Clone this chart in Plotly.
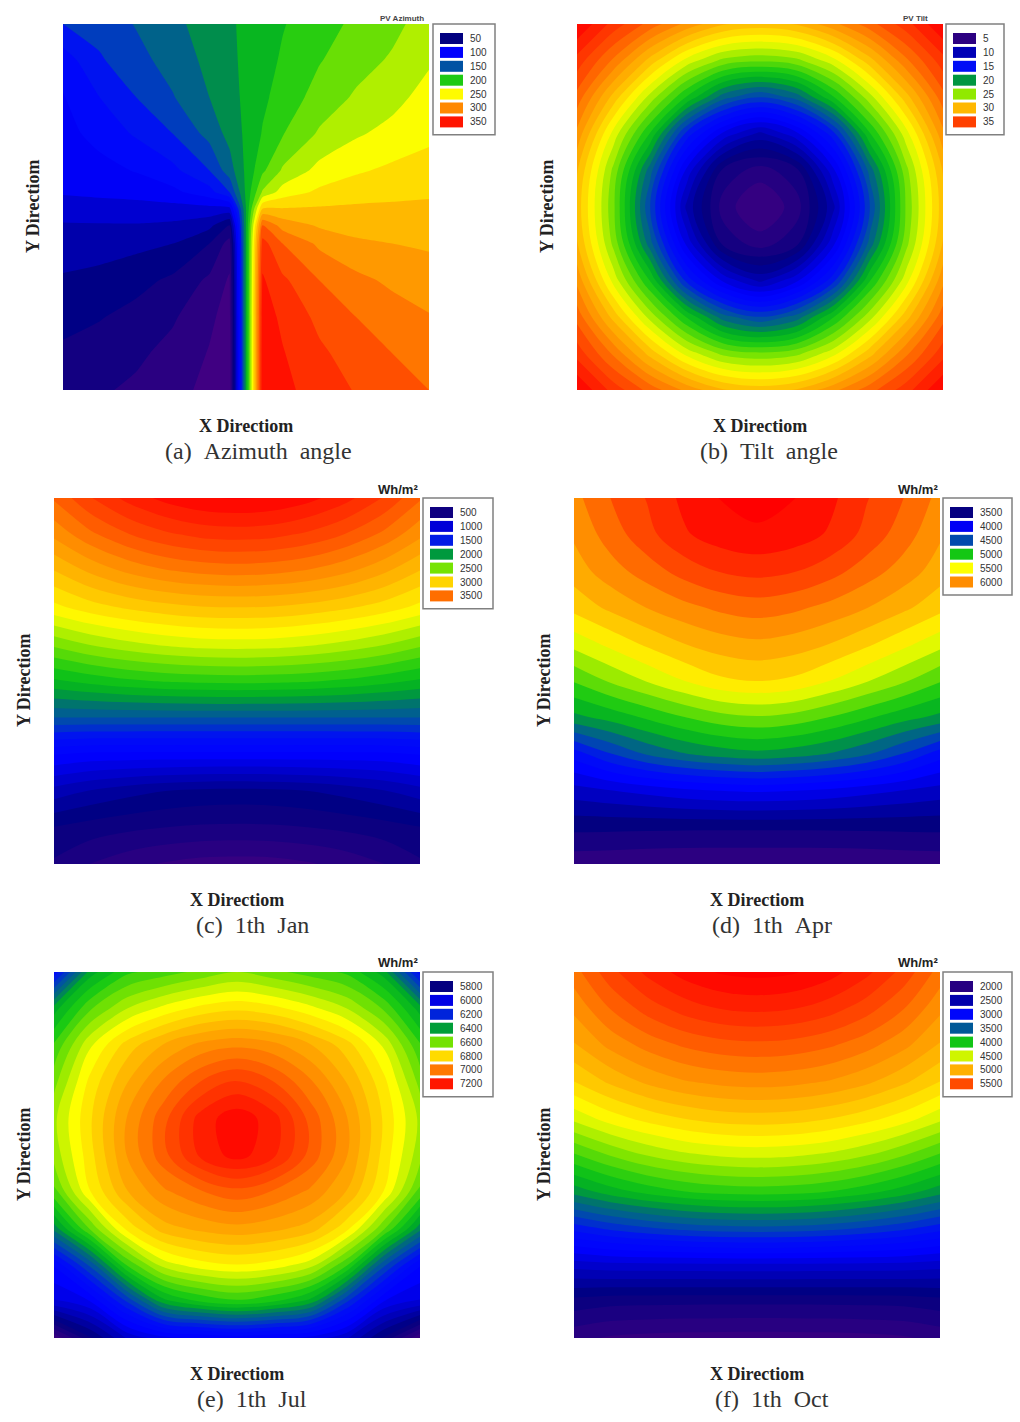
# Six contour maps: PV azimuth, PV tilt and irradiation on four dates
import plotly.graph_objects as go
from plotly.colors import sample_colorscale

rainbow = [[0.0, "#4b0082"], [0.14, "#000080"], [0.28, "#0000ff"], [0.35, "#000ff5"], [0.42, "#00559f"],
           [0.46, "#00736e"], [0.5, "#00aa28"], [0.55, "#14c814"], [0.62, "#82e600"], [0.69, "#ffff00"],
           [0.76, "#ffc000"], [0.83, "#ff8c00"], [0.9, "#ff4b00"], [1.0, "#ff0000"]]

grid_x = [0, 0.1, 0.2, 0.3, 0.4, 0.5, 0.6, 0.7, 0.8, 0.9, 1]
grid_y = [0, 0.1, 0.2, 0.3, 0.4, 0.5, 0.6, 0.7, 0.8, 0.9, 1]

azimuth_x = [0, 0.1, 0.2, 0.3, 0.4, 0.455, 0.5, 0.545, 0.6, 0.7, 0.8, 0.9, 1]
azimuth_y = [0, 0.1, 0.2, 0.3, 0.4, 0.46, 0.505, 0.55, 0.6, 0.7, 0.8, 0.9, 1]
azimuth = [
    [135, 141, 151, 161, 172, 178, 183, 188, 194, 204, 213, 221, 232],
    [112, 133, 145, 156, 169, 177, 183, 189, 197, 209, 219, 227, 238],
    [104, 120, 135, 149, 165, 175, 183, 192, 201, 216, 227, 235, 246],
    [100, 110, 122, 135, 155, 170, 183, 196, 209, 227, 238, 245, 251],
    [97, 100, 106, 116, 135, 158, 183, 207, 227, 245, 253, 258, 262],
    [92, 94, 96, 101, 114, 135, 183, 227, 247, 258, 263, 266, 268],
    [80, 82, 83, 84, 85, 85, 180, 270, 271, 272, 273, 273, 273],
    [74, 74, 74, 72, 64, 45, 180, 315, 294, 283, 279, 278, 278],
    [68, 67, 64, 60, 45, 24, 180, 336, 315, 297, 288, 285, 283],
    [58, 55, 50, 42, 27, 13, 180, 347, 333, 315, 304, 297, 292],
    [50, 46, 40, 32, 18, 9, 180, 352, 342, 326, 315, 307, 301],
    [42, 38, 33, 25, 14, 6, 180, 354, 346, 333, 323, 315, 309],
    [36, 32, 27, 20, 11, 5, 180, 355, 349, 338, 329, 321, 315],
]

tilt = [
    [38, 35.6, 33.6, 31.7, 30.1, 29.6, 30.1, 31.7, 33.6, 35.6, 38],
    [35.6, 32.8, 29.6, 26.6, 24.7, 24.2, 24.7, 26.6, 29.6, 32.8, 35.6],
    [33.6, 29.6, 25.6, 21.9, 18.4, 17, 18.4, 21.9, 25.6, 29.6, 33.6],
    [31.7, 26.6, 21.9, 15.6, 11.7, 9.7, 11.7, 15.6, 21.9, 26.6, 31.7],
    [30.1, 24.7, 18.4, 11.7, 6.7, 5.5, 6.7, 11.7, 18.4, 24.7, 30.1],
    [29.6, 24.2, 17, 9.7, 5.5, 4, 5.5, 9.7, 17, 24.2, 29.6],
    [30.1, 24.7, 18.4, 11.7, 6.7, 5.5, 6.7, 11.7, 18.4, 24.7, 30.1],
    [31.7, 26.6, 21.9, 15.6, 11.7, 9.7, 11.7, 15.6, 21.9, 26.6, 31.7],
    [33.6, 29.6, 25.6, 21.9, 18.4, 17, 18.4, 21.9, 25.6, 29.6, 33.6],
    [35.6, 32.8, 29.6, 26.6, 24.7, 24.2, 24.7, 26.6, 29.6, 32.8, 35.6],
    [38, 35.6, 33.6, 31.7, 30.1, 29.6, 30.1, 31.7, 33.6, 35.6, 38],
]

jan = [
    [3530, 3718, 3862, 3966, 4030, 4050, 4030, 3966, 3862, 3718, 3530],
    [3330, 3490, 3610, 3698, 3754, 3770, 3754, 3698, 3610, 3490, 3330],
    [3090, 3218, 3322, 3394, 3434, 3450, 3434, 3394, 3322, 3218, 3090],
    [2850, 2938, 3002, 3050, 3082, 3090, 3082, 3050, 3002, 2938, 2850],
    [2490, 2578, 2642, 2690, 2722, 2730, 2722, 2690, 2642, 2578, 2490],
    [2130, 2186, 2234, 2266, 2282, 2290, 2282, 2266, 2234, 2186, 2130],
    [1730, 1730, 1730, 1730, 1730, 1730, 1730, 1730, 1730, 1730, 1730],
    [1210, 1178, 1174, 1172, 1170, 1170, 1170, 1172, 1174, 1178, 1210],
    [850, 778, 722, 682, 658, 650, 658, 682, 722, 778, 850],
    [570, 526, 494, 470, 454, 450, 454, 470, 494, 526, 570],
    [450, 362, 298, 250, 218, 210, 218, 250, 298, 362, 450],
]

apr = [
    [5967, 6146, 6289, 6449, 6556, 6610, 6556, 6449, 6289, 6146, 5967],
    [5896, 6075, 6235, 6396, 6485, 6521, 6485, 6396, 6235, 6075, 5896],
    [5807, 5950, 6075, 6199, 6289, 6324, 6289, 6199, 6075, 5950, 5807],
    [5646, 5771, 5878, 5967, 6039, 6075, 6039, 5967, 5878, 5771, 5646],
    [5378, 5503, 5628, 5735, 5807, 5842, 5807, 5735, 5628, 5503, 5378],
    [5075, 5218, 5343, 5468, 5575, 5610, 5575, 5468, 5343, 5218, 5075],
    [4754, 4843, 4950, 5057, 5146, 5182, 5146, 5057, 4950, 4843, 4754],
    [4182, 4379, 4539, 4647, 4718, 4754, 4718, 4647, 4539, 4379, 4182],
    [3790, 3843, 3897, 3950, 3986, 4004, 3986, 3950, 3897, 3843, 3790],
    [3480, 3476, 3472, 3470, 3468, 3468, 3468, 3470, 3472, 3476, 3480],
    [3220, 3210, 3195, 3185, 3183, 3183, 3183, 3185, 3195, 3210, 3220],
]

jul = [
    [6130, 6415, 6515, 6549, 6582, 6615, 6582, 6549, 6515, 6415, 6140],
    [6415, 6565, 6660, 6720, 6765, 6785, 6765, 6720, 6660, 6565, 6415],
    [6532, 6699, 6816, 6890, 6945, 6966, 6945, 6890, 6816, 6699, 6532],
    [6599, 6766, 6883, 6983, 7066, 7116, 7066, 6983, 6883, 6766, 6599],
    [6649, 6790, 6933, 7050, 7175, 7230, 7175, 7050, 6933, 6790, 6649],
    [6632, 6780, 6933, 7050, 7165, 7220, 7165, 7050, 6933, 6780, 6632],
    [6560, 6750, 6883, 6966, 7016, 7050, 7016, 6966, 6883, 6750, 6560],
    [6365, 6582, 6766, 6866, 6899, 6916, 6899, 6866, 6766, 6582, 6365],
    [6080, 6270, 6532, 6682, 6732, 6749, 6732, 6682, 6532, 6270, 6080],
    [5980, 6031, 6215, 6415, 6482, 6515, 6482, 6415, 6215, 6031, 5980],
    [5630, 5797, 5947, 6014, 6031, 6048, 6031, 6014, 5947, 5797, 5630],
]

oct_ = [
    [5289, 5517, 5694, 5821, 5897, 5922, 5897, 5821, 5694, 5517, 5289],
    [5142, 5340, 5492, 5602, 5669, 5690, 5669, 5602, 5492, 5340, 5142],
    [4994, 5146, 5264, 5349, 5399, 5416, 5399, 5349, 5264, 5146, 4994],
    [4783, 4918, 5028, 5104, 5146, 5163, 5146, 5104, 5028, 4918, 4783],
    [4488, 4619, 4716, 4788, 4834, 4847, 4834, 4788, 4716, 4619, 4488],
    [4109, 4244, 4353, 4429, 4471, 4488, 4471, 4429, 4353, 4244, 4109],
    [3729, 3851, 3944, 4012, 4054, 4067, 4054, 4012, 3944, 3851, 3729],
    [3181, 3274, 3341, 3392, 3425, 3434, 3425, 3392, 3341, 3274, 3181],
    [2633, 2660, 2665, 2668, 2672, 2675, 2672, 2668, 2665, 2660, 2633],
    [2211, 2180, 2175, 2172, 2170, 2169, 2170, 2172, 2175, 2180, 2211],
    [1958, 1910, 1890, 1880, 1876, 1874, 1876, 1880, 1890, 1910, 1958],
]

azimuth_levels = [50, 100, 150, 200, 250, 300, 350]
tilt_levels = [5, 10, 15, 20, 25, 30, 35]
jan_levels = [500, 1000, 1500, 2000, 2500, 3000, 3500]
apr_levels = [3500, 4000, 4500, 5000, 5500, 6000]
jul_levels = [5800, 6000, 6200, 6400, 6600, 6800, 7000, 7200]
oct_levels = [2000, 2500, 3000, 3500, 4000, 4500, 5000, 5500]

captions = ["(a)\u00a0\u00a0Azimuth\u00a0\u00a0angle", "(b)\u00a0\u00a0Tilt\u00a0\u00a0angle",
            "(c)\u00a0\u00a01th\u00a0\u00a0Jan", "(d)\u00a0\u00a01th\u00a0\u00a0Apr",
            "(e)\u00a0\u00a01th\u00a0\u00a0Jul", "(f)\u00a0\u00a01th\u00a0\u00a0Oct"]
units = ["PV Azimuth", "PV Tilt", "Wh/m²", "Wh/m²", "Wh/m²", "Wh/m²"]

W, H = 1020, 1422
SIDE = 366


def px(x):
    return x / W


def py(y):
    return 1 - y / H


# left, top, grid, levels, zmin, zmax, band size, legend left, legend right, caption centre, unit right
panels = [
    (63, 24, azimuth, azimuth_x, azimuth_y, azimuth_levels, 0, 360, 15, 433, 495, 258, 426),
    (577, 24, tilt, grid_x, grid_y, tilt_levels, 3, 38, 1, 946, 1004, 769, 930),
    (54, 498, jan, grid_x, grid_y, jan_levels, 50, 4050, 105, 423, 493, 252, 420),
    (574, 498, apr, grid_x, grid_y, apr_levels, 3040, 6610, 135, 943, 1012, 772, 940),
    (54, 972, jul, grid_x, grid_y, jul_levels, 5580, 7250, 45, 423, 493, 252, 420),
    (574, 972, oct_, grid_x, grid_y, oct_levels, 1705, 5920, 110, 943, 1012, 772, 940),
]

fig = go.Figure()
serif_bold = dict(family="Liberation Serif", size=18, color="#222222", weight=700)
for i, (left, top, z, xs, ys, levels, zmin, zmax, step, leg_l, leg_r, cap_x, unit_x) in enumerate(panels):
    n = str(i + 1) if i else ""
    fig.add_trace(go.Contour(
        x=xs, y=ys, z=z, xaxis="x" + n, yaxis="y" + n,
        colorscale=rainbow, zmin=zmin, zmax=zmax, zauto=False, showscale=False,
        contours=dict(coloring="fill", start=zmin, end=zmax, size=step, showlines=False),
        line=dict(width=0, smoothing=0.6 if i == 0 else 1), hoverinfo="skip",
    ))
    axis = dict(visible=False, showgrid=False, zeroline=False)
    fig.layout["xaxis" + n] = go.layout.XAxis(domain=[px(left), px(left + SIDE)], range=[0, 1],
                                              anchor="y" + n, **axis)
    fig.layout["yaxis" + n] = go.layout.YAxis(domain=[py(top + SIDE), py(top)], range=[1, 0],
                                              anchor="x" + n, **axis)

    cx = left + SIDE / 2
    note = dict(xref="paper", yref="paper", showarrow=False, xanchor="center", yanchor="middle")
    fig.add_annotation(x=px(cx), y=py(top + 402), text="X Directiom", font=serif_bold, **note)
    fig.add_annotation(x=px(left - 30), y=py(top + 183), text="Y Directiom", font=serif_bold,
                       textangle=-90, **note)
    fig.add_annotation(x=px(cap_x), y=py(top + 427), text=captions[i],
                       font=dict(family="Liberation Serif", size=24, color="#333333"), **note)
    note_r = dict(note, xanchor="right")
    if i < 2:
        fig.add_annotation(x=px(unit_x), y=py(top - 5), text=units[i],
                           font=dict(family="Liberation Sans", size=8, color="#444444", weight=700), **note_r)
    else:
        fig.add_annotation(x=px(unit_x), y=py(top - 9), text=units[i],
                           font=dict(family="Liberation Sans", size=13, color="#222222", weight=700), **note_r)

    # legend box with one swatch per level
    row = 13.9
    leg_h = 14 + row * len(levels) - 0.5
    fig.add_shape(type="rect", xref="paper", yref="paper", x0=px(leg_l), x1=px(leg_r),
                  y0=py(top), y1=py(top + leg_h), line=dict(color="#808080", width=1.5),
                  fillcolor="white")
    ts = [(v - zmin) / (zmax - zmin) for v in levels]
    note_l = dict(note, xanchor="left")
    for k, (level, color) in enumerate(zip(levels, sample_colorscale(rainbow, ts))):
        y0 = top + 9 + row * k
        fig.add_shape(type="rect", xref="paper", yref="paper", x0=px(leg_l + 7), x1=px(leg_l + 30),
                      y0=py(y0), y1=py(y0 + 11), line=dict(width=0), fillcolor=color)
        fig.add_annotation(x=px(leg_l + 35), y=py(y0 + 5.5), text=str(level),
                           font=dict(family="Liberation Sans", size=10, color="#333333"), **note_l)

fig.update_layout(width=W, height=H, margin=dict(l=0, r=0, t=0, b=0), showlegend=False,
                  paper_bgcolor="white", plot_bgcolor="white")

fig.write_html("out.html", config=dict(displayModeBar=False), post_script="document.body.style.margin='0';")
